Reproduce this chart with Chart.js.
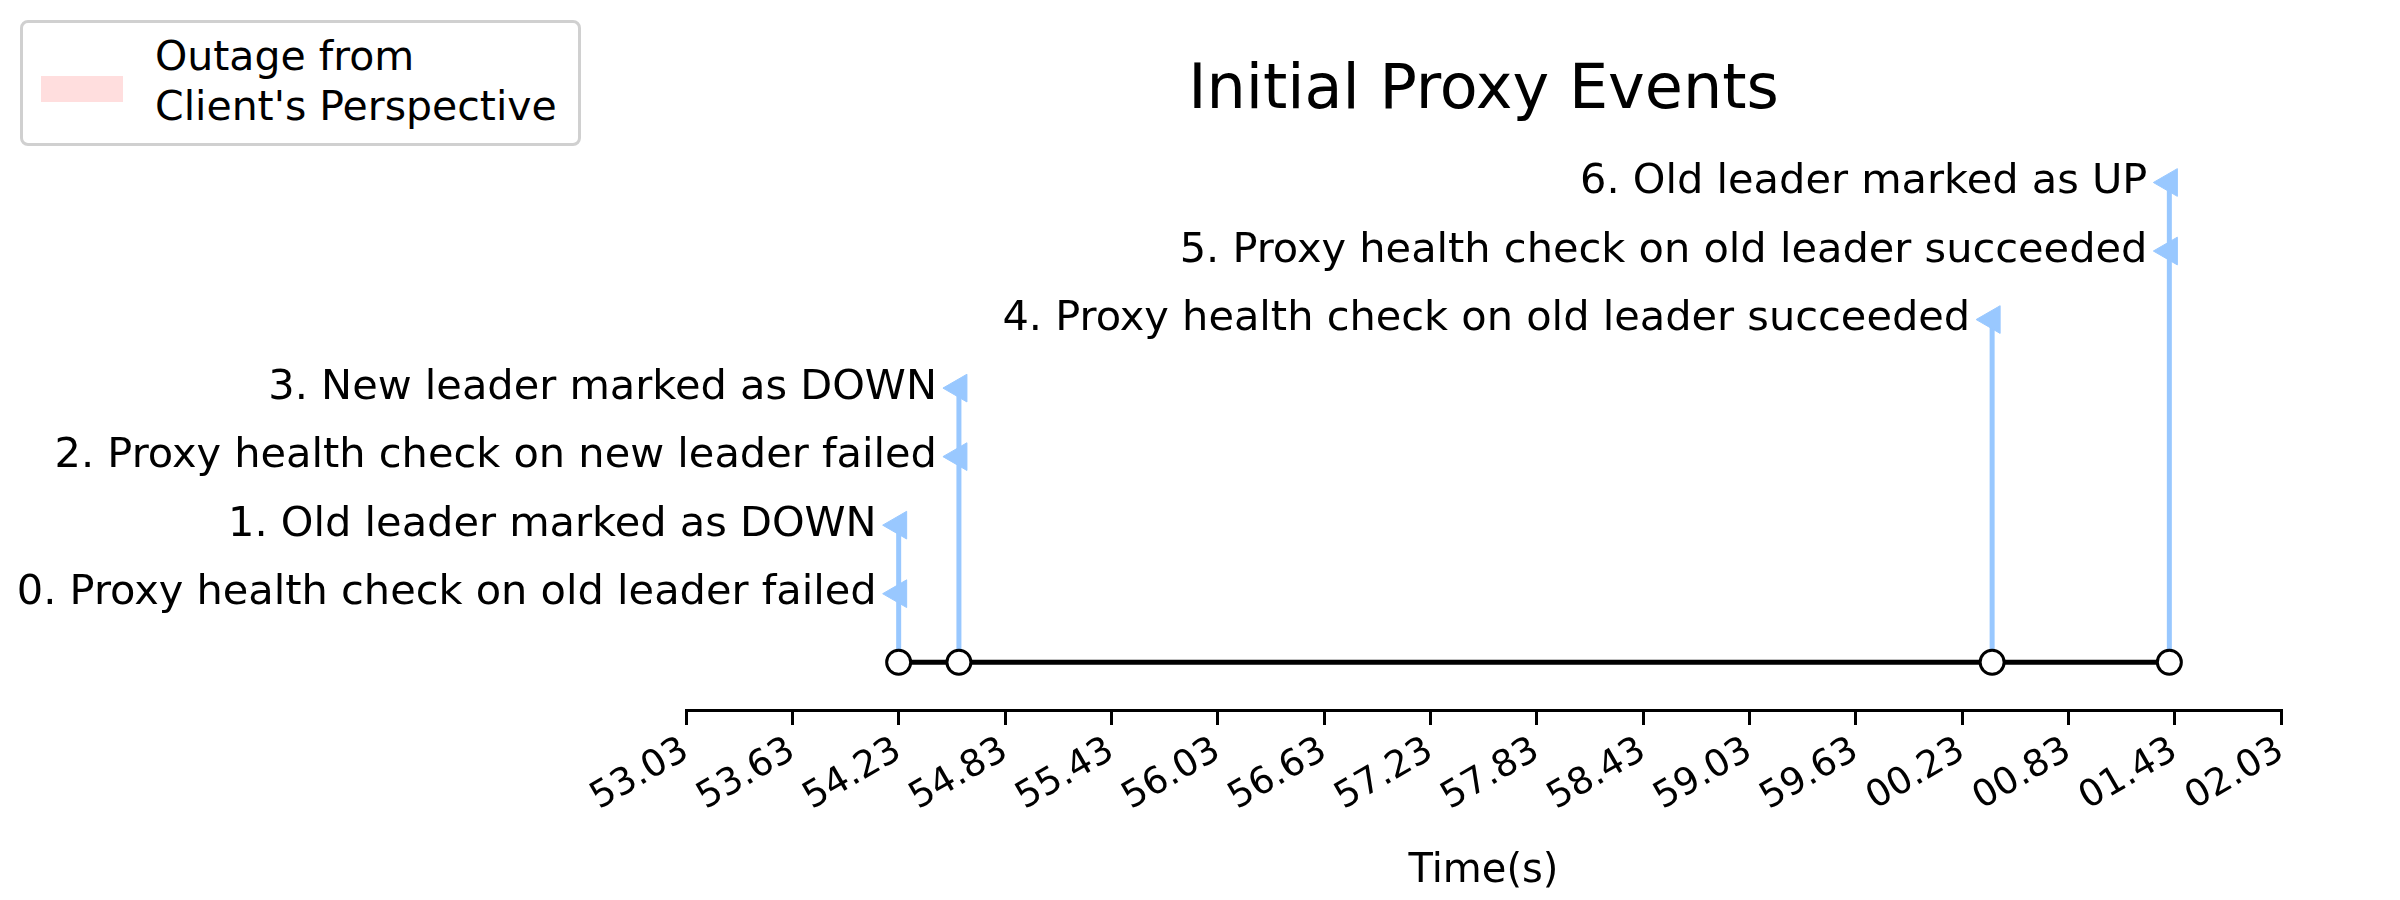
<!DOCTYPE html>
<html>
<head>
<meta charset="utf-8">
<script src="https://cdn.jsdelivr.net/npm/chart.js@4"></script>
<style>
  html, body { margin:0; padding:0; background:#fff; }
  #wrap { position:relative; width:2400px; height:900px; }
  #legend { position:absolute; left:20px; top:20px; width:561px; height:126px; border:3px solid #d0d0d0; border-radius:8px; box-sizing:border-box; background:#fff; font:41px 'DejaVu Sans', sans-serif; color:#000; }
  #legend .patch { position:absolute; left:18px; top:53px; width:82px; height:26px; background:#ffdede; }
  #legend .txt { position:absolute; left:132px; top:8px; line-height:50px; }
</style>
</head>
<body>
<div id="wrap">
  <canvas id="c" width="2400" height="900"></canvas>
  <div id="legend"><div class="patch"></div><div class="txt">Outage from<br>Client's Perspective</div></div>
</div>
<script>
const FONT = "'DejaVu Sans', sans-serif";
const STEM = '#99c8ff';

// seconds after 53.03
const eventTimes = [1.2, 1.2, 1.54, 1.54, 7.37, 8.37, 8.37];
const eventLabels = [
  '0. Proxy health check on old leader failed',
  '1. Old leader marked as DOWN',
  '2. Proxy health check on new leader failed',
  '3. New leader marked as DOWN',
  '4. Proxy health check on old leader succeeded',
  '5. Proxy health check on old leader succeeded',
  '6. Old leader marked as UP'
];
const eventLevels = [1, 2, 3, 4, 5, 6, 7];
const tickLabels = ['53.03','53.63','54.23','54.83','55.43','56.03','56.63','57.23','57.83','58.43','59.03','59.63','00.23','00.83','01.43','02.03'];

const uniqTimes = [...new Set(eventTimes)];
const stems = uniqTimes.map(t => ({
  type: 'line',
  data: [{ x: t, y: 0 }, { x: t, y: Math.max(...eventLevels.filter((l, i) => eventTimes[i] === t)) }],
  borderColor: STEM, borderWidth: 5, pointRadius: 0, order: 3
}));

Chart.register({
  id: 'eventText',
  afterDatasetsDraw(chart) {
    const { ctx, scales: { x, y } } = chart;
    ctx.save();
    ctx.font = `41.5px ${FONT}`;
    ctx.fillStyle = '#000';
    ctx.textAlign = 'right';
    ctx.textBaseline = 'middle';
    eventLabels.forEach((lab, i) => {
      ctx.fillText(lab, x.getPixelForValue(eventTimes[i]) - 22, y.getPixelForValue(eventLevels[i]));
    });
    ctx.font = `62px ${FONT}`;
    ctx.textAlign = 'center';
    ctx.fillText('Initial Proxy Events', (chart.chartArea.left + chart.chartArea.right) / 2, 92);
    ctx.restore();
  }
});

new Chart(document.getElementById('c'), {
  data: {
    datasets: [
      ...stems,
      { type: 'scatter', data: eventTimes.map((t, i) => ({ x: t, y: eventLevels[i] })),
        pointStyle: 'triangle', rotation: 270, radius: 16, backgroundColor: STEM, borderColor: STEM, order: 2 },
      { type: 'line', data: [{ x: uniqTimes[0], y: 0 }, { x: uniqTimes[uniqTimes.length - 1], y: 0 }],
        borderColor: '#000', borderWidth: 5, pointRadius: 0, order: 1 },
      { type: 'scatter', data: uniqTimes.map(t => ({ x: t, y: 0 })),
        pointStyle: 'circle', radius: 12, borderWidth: 3, backgroundColor: '#fff', borderColor: '#000', order: 0 }
    ]
  },
  options: {
    responsive: false, animation: false,
    layout: { padding: { left: 686, right: 119, top: 140, bottom: 0 } },
    plugins: { legend: { display: false }, tooltip: { enabled: false } },
    scales: {
      x: {
        type: 'linear', min: 0, max: 9,
        afterFit(s) { s.height = 190; },
        border: { display: true, color: '#000', width: 3 },
        grid: { drawOnChartArea: false, drawTicks: true, tickLength: 15, color: '#000', lineWidth: 3 },
        ticks: { stepSize: 0.6, autoSkip: false, maxRotation: 30, minRotation: 30, padding: 4,
          font: { family: FONT, size: 37 }, color: '#000', callback: (v, i) => tickLabels[i] },
        title: { display: true, text: 'Time(s)', font: { family: FONT, size: 40 }, color: '#000', padding: { top: 4 } }
      },
      y: { display: false, min: -0.697, max: 7.62 }
    }
  }
});
</script>
</body>
</html>
